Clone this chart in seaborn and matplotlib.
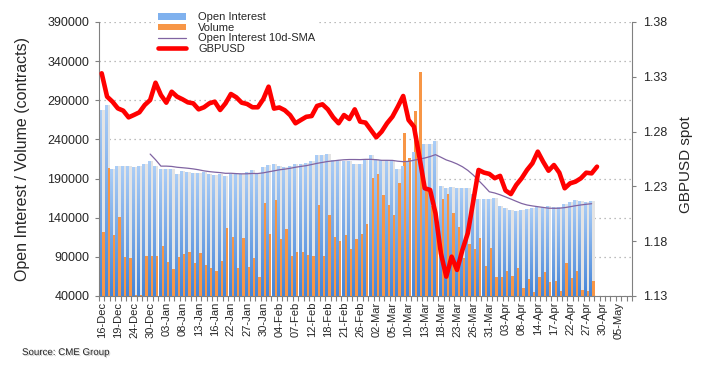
import numpy as np
import pandas as pd
import matplotlib
matplotlib.use("Agg")
import matplotlib.pyplot as plt
import matplotlib.patheffects as pe
from matplotlib.colors import LinearSegmentedColormap
from matplotlib.lines import Line2D
from matplotlib.patches import Patch
from matplotlib.ticker import StrMethodFormatter
import seaborn as sns

# trading days 16-Dec .. 07-May, one label every third day
n_days = 99
tick_labels = ["16-Dec", "19-Dec", "24-Dec", "30-Dec", "03-Jan", "08-Jan", "13-Jan", "16-Jan",
               "22-Jan", "27-Jan", "30-Jan", "04-Feb", "07-Feb", "12-Feb", "18-Feb", "21-Feb",
               "26-Feb", "02-Mar", "05-Mar", "10-Mar", "13-Mar", "18-Mar", "23-Mar", "26-Mar",
               "31-Mar", "03-Apr", "08-Apr", "14-Apr", "17-Apr", "22-Apr", "27-Apr", "30-Apr",
               "05-May"]

open_interest = [278000, 284000, 202000, 206000, 206000, 206000, 205000, 206000, 208000, 212000,
                 206000, 202000, 202000, 202000, 195500, 200000, 198500, 197500, 197000, 198000,
                 196300, 195000, 196300, 193000, 196300, 195500, 195500, 198500, 200600, 197600,
                 204900, 207800, 209100, 206100, 204900, 206100, 209100, 209100, 210400, 212100,
                 219800, 219800, 221100, 213400, 213400, 212100, 212100, 209100, 209100, 215500,
                 219800, 215500, 213400, 213400, 212100, 201900, 206100, 213000, 224000, 229000,
                 234100, 234100, 238000, 180500, 177600, 178800, 177600, 177600, 177600, 170300,
                 163900, 163900, 163500, 164800, 155000, 152000, 149900, 148600, 149900, 151100,
                 152000, 154100, 154100, 155000, 153300, 153300, 157500, 160000, 162600, 161300,
                 160400, 161300]

volume = [122000, 204000, 118000, 141000, 90000, 88000, 41000, 41000, 91000, 91000,
          91000, 104000, 83000, 75000, 90000, 93500, 96500, 82000, 94500, 79000,
          75600, 71300, 84600, 126800, 115300, 75600, 114000, 76900, 88400, 64100,
          158800, 119100, 162200, 112300, 125500, 91000, 96100, 96100, 92000, 90500,
          155800, 90500, 143000, 114800, 109700, 117400, 99500, 112300, 118700, 131500,
          190400, 195500, 168600, 155800, 143000, 184000, 248000, 216000, 276300, 326000,
          175000, 155000, 140000, 163500, 170300, 146400, 128000, 89000, 106400, 100400,
          114500, 78300, 100900, 64700, 64700, 71900, 65500, 76200, 50600, 61700,
          45000, 64700, 71000, 58300, 59200, 46400, 82600, 63400, 71900, 47700,
          46400, 59200]

gbpusd = [1.3332, 1.3119, 1.3073, 1.3012, 1.2991, 1.2930, 1.2952, 1.2976, 1.3043, 1.3088,
          1.3246, 1.3134, 1.3064, 1.3164, 1.3119, 1.3095, 1.3067, 1.3058, 1.3003, 1.3022,
          1.3058, 1.3073, 1.2997, 1.3058, 1.3143, 1.3113, 1.3064, 1.3052, 1.3022, 1.3022,
          1.3095, 1.3210, 1.3010, 1.3020, 1.2995, 1.2950, 1.2876, 1.2906, 1.2935, 1.2942,
          1.3034, 1.3049, 1.3003, 1.2930, 1.2876, 1.2951, 1.2915, 1.3003, 1.2891, 1.2882,
          1.2815, 1.2748, 1.2800, 1.2876, 1.2936, 1.3027, 1.3125, 1.2906, 1.2845, 1.2572,
          1.2283, 1.2268, 1.2055, 1.1690, 1.1477, 1.1659, 1.1538, 1.1720, 1.1873, 1.2161,
          1.2450, 1.2426, 1.2414, 1.2375, 1.2396, 1.2263, 1.2230, 1.2313, 1.2374, 1.2450,
          1.2511, 1.2617, 1.2525, 1.2443, 1.2495, 1.2425, 1.2283, 1.2328, 1.2343, 1.2374,
          1.2425, 1.2419, 1.2480]

blue = "#78acec"
orange = "#f79646"
purple = "#8064a2"
red = "#ff0000"
grey = "#808080"

sns.set_style("ticks")
plt.rcParams["font.family"] = ["Liberation Sans", "DejaVu Sans"]

days = np.arange(len(open_interest))
# 10 day simple moving average of the open interest (as named in the legend)
sma = pd.Series(open_interest).rolling(10).mean()

fig, ax = plt.subplots(figsize=(7.04, 3.70), dpi=100)
fig.subplots_adjust(left=99 / 704, right=632 / 704, top=1 - 22 / 370, bottom=1 - 296 / 370)

bar_kw = dict(native_scale=True, saturation=1, errorbar=None, linewidth=0, edgecolor="none", ax=ax)
# light shadow to the right of the open interest bars
sns.barplot(x=days + 0.27, y=open_interest, width=0.54, color="#e4e4e4", **bar_kw)
sns.barplot(x=days - 0.22, y=open_interest, width=0.44, color=blue, **bar_kw)
oi_bars = ax.containers[-1]
sns.barplot(x=days + 0.25, y=volume, width=0.58, color=orange, **bar_kw)

# vertical gradient on the open interest bars
cmap = LinearSegmentedColormap.from_list("oi", ["#4585d8", "#aacdf7"])
ramp = np.linspace(0, 1, 50).reshape(-1, 1)
for rect in oi_bars:
    x0, w, h = rect.get_x(), rect.get_width(), rect.get_height()
    im = ax.imshow(ramp, cmap=cmap, origin="lower", aspect="auto", interpolation="bilinear",
                   extent=(x0, x0 + w, 40000, h), zorder=1)
    im.set_clip_path(rect)

sns.lineplot(x=days, y=sma, ax=ax, color=purple, lw=0.9, zorder=3)

ax2 = ax.twinx()
sns.lineplot(x=np.arange(len(gbpusd)), y=gbpusd, ax=ax2, color=red, lw=3.3, zorder=3,
             solid_joinstyle="round", solid_capstyle="round")

ax.set_xlim(-0.5, n_days - 0.5)
ax.set_ylim(40000, 390000)
ax.set_yticks(np.arange(40000, 390001, 50000))
ax.yaxis.set_major_formatter(StrMethodFormatter("{x:.0f}"))
ax2.set_ylim(1.13, 1.38)
ax2.set_yticks(np.arange(1.13, 1.3801, 0.05))
ax2.yaxis.set_major_formatter(StrMethodFormatter("{x:.2f}"))

ax.set_xticks(np.arange(0, n_days, 3))
ax.set_xticklabels(tick_labels, rotation=90, fontsize=8)
ax.set_xticks(np.arange(n_days + 1) - 0.5, minor=True)
ax.tick_params(axis="x", which="major", length=0, pad=4)
ax.tick_params(axis="x", which="minor", length=3.5, width=0.8, color=grey)
ax.tick_params(axis="y", length=3, width=0.8, color=grey, labelsize=9, pad=4)
ax2.tick_params(axis="y", right=True, length=3, width=0.8, color=grey, labelsize=9, pad=5)

ax.yaxis.grid(True, linestyle=(0, (1, 3)), color="#a6a6a6", lw=0.9)
ax.set_axisbelow(True)

for s in ["top", "right"]:
    ax.spines[s].set_visible(False)
for s in ["left", "bottom"]:
    ax.spines[s].set_color(grey)
for s in ["top", "left", "bottom"]:
    ax2.spines[s].set_visible(False)
ax2.spines["right"].set_color(grey)

ax.set_xlabel("")
ax.set_ylabel("Open Interest / Volume (contracts)", fontsize=11.5)
ax.yaxis.set_label_coords(-0.1295, 0.5)
ax2.set_ylabel("GBPUSD spot", fontsize=11)
ax2.yaxis.set_label_coords(1.088, 0.48)

handles = [Patch(facecolor="#7fb1ee", edgecolor="none"),
           Patch(facecolor=orange, edgecolor="none"),
           Line2D([], [], color=purple, lw=0.9),
           Line2D([], [], color=red, lw=3.3)]
labels = ["Open Interest", "Volume", "Open Interest 10d-SMA", "GBPUSD"]
fig.legend(handles, labels, loc="upper left", bbox_to_anchor=(155 / 704, 1 - 9 / 370),
           frameon=True, facecolor="white", edgecolor="none", framealpha=1, fancybox=False,
           fontsize=8, handlelength=2.45, handleheight=0.55, handletextpad=1.15,
           labelspacing=0.05, borderpad=0.3, borderaxespad=0)

fig.text(22 / 704, 1 - 352 / 370, "Source: CME Group", fontsize=7, ha="left", va="center",
         path_effects=[pe.withSimplePatchShadow(offset=(0.8, -0.8), shadow_rgbFace="#999999",
                                                alpha=0.5)])

fig.savefig("out.png", dpi=100)
